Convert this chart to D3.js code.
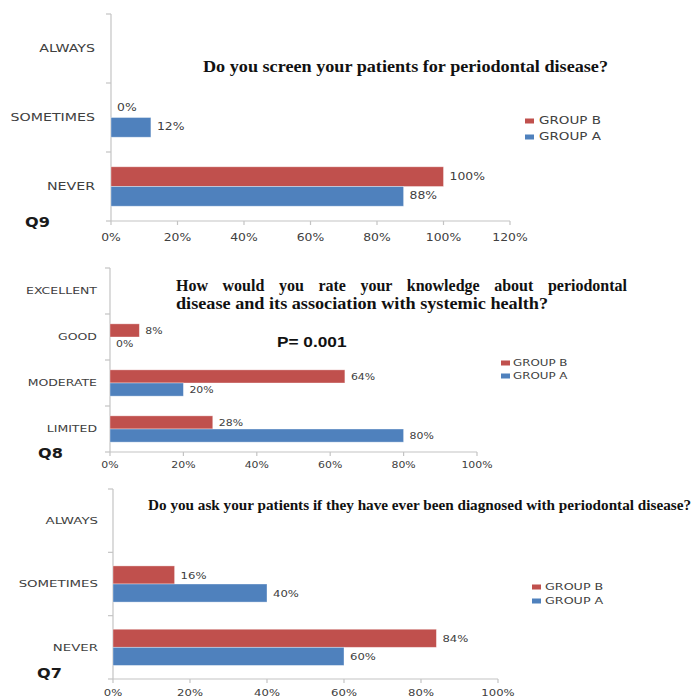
<!DOCTYPE html>
<html>
<head>
<meta charset="utf-8">
<script src="https://cdn.jsdelivr.net/npm/d3@7"></script>
<style>
  body { margin: 0; background: #fff; }
  svg { display: block; }
</style>
</head>
<body>
<svg id="chart" width="692" height="697"></svg>
<script>
// ---- Q9 ----
const q9Categories = ["ALWAYS", "SOMETIMES", "NEVER"];
const q9GroupA = [null, 12, 88];
const q9GroupB = [null, 0, 100];
const q9Ticks = [0, 20, 40, 60, 80, 100, 120];
const q9Title = ["Do you screen your patients for periodontal disease?"];

// ---- Q8 ----
const q8Categories = ["EXCELLENT", "GOOD", "MODERATE", "LIMITED"];
const q8GroupA = [null, 0, 20, 80];
const q8GroupB = [null, 8, 64, 28];
const q8Ticks = [0, 20, 40, 60, 80, 100];
const q8Title = ["How would you rate your knowledge about periodontal",
                 "disease and its association with systemic health?"];
const q8Note = "P= 0.001";

// ---- Q7 ----
const q7Categories = ["ALWAYS", "SOMETIMES", "NEVER"];
const q7GroupA = [null, 40, 60];
const q7GroupB = [null, 16, 84];
const q7Ticks = [0, 20, 40, 60, 80, 100];
const q7Title = ["Do you ask your patients if they have ever been diagnosed with periodontal disease?"];

const seriesNames = ["GROUP B", "GROUP A"];
const seriesColors = ["#C0504D", "#4F81BD"];

// horizontal stretch applied to the sans-serif texts
const SX_CAT = 1.42, SX_NUM = 1.24, SX_LEG = 1.35;
const SANS = "'DejaVu Sans', Verdana, sans-serif";
const SERIF = "'Liberation Serif', 'Times New Roman', serif";
const TEXT_GREY = "#404040";
const AXIS_GREY = "#c4c4c4";

const svg = d3.select("#chart");

function stretched(g, x, y, str, sx, size, anchor, opts = {}) {
  return g.append("text")
    .attr("transform", `translate(${x},${y}) scale(${sx},1)`)
    .attr("text-anchor", anchor)
    .attr("dominant-baseline", "central")
    .style("font-family", opts.family || SANS)
    .style("font-size", size + "px")
    .style("font-weight", opts.weight || "normal")
    .style("fill", opts.fill || TEXT_GREY)
    .text(str);
}

const panels = [
  {
    name: "Q9", categories: q9Categories, a: q9GroupA, b: q9GroupB, ticks: q9Ticks, max: 120,
    x0: 111, x1: 510, top: 14, bottom: 221, fs: 10, catRight: 95, tickY: 238,
    qLabel: { x: 25, y: 222 },
    legend: { x: 525, y: 121, dy: 16, tx: 539 },
    title: q9Title, titleLayout: { x: 203, y: 66, size: 17, widths: [405], justify: [false] }
  },
  {
    name: "Q8", categories: q8Categories, a: q8GroupA, b: q8GroupB, ticks: q8Ticks, max: 100,
    x0: 110, x1: 477, top: 268, bottom: 452, fs: 8.8, catRight: 97, tickY: 465,
    qLabel: { x: 38, y: 453 },
    legend: { x: 501, y: 363, dy: 13, tx: 513 },
    title: q8Title, titleLayout: { x: 176, y: 285, size: 16, lineGap: 18, widths: [451, 372], justify: [true, false] },
    note: { text: q8Note, x: 277, y: 341 }
  },
  {
    name: "Q7", categories: q7Categories, a: q7GroupA, b: q7GroupB, ticks: q7Ticks, max: 100,
    x0: 113, x1: 498, top: 489, bottom: 679, fs: 9.4, catRight: 98, tickY: 692,
    qLabel: { x: 37, y: 673 },
    legend: { x: 532, y: 587, dy: 14, tx: 545 },
    title: q7Title, titleLayout: { x: 148, y: 505, size: 14, widths: [543], justify: [false] }
  }
];

panels.forEach(p => {
  const g = svg.append("g");
  const x = d3.scaleLinear().domain([0, p.max]).range([p.x0, p.x1]);
  const y = d3.scaleBand().domain(p.categories).range([p.top, p.bottom]);
  const inner = d3.scaleBand().domain(seriesNames).range([0, y.bandwidth()]).paddingOuter(0.75);

  // axes
  g.append("line").attr("x1", p.x0).attr("x2", p.x0).attr("y1", p.top).attr("y2", p.bottom)
    .attr("stroke", AXIS_GREY).attr("stroke-width", 1.2);
  g.append("line").attr("x1", p.x0).attr("x2", x(p.max)).attr("y1", p.bottom).attr("y2", p.bottom)
    .attr("stroke", AXIS_GREY).attr("stroke-width", 1.2);
  const bounds = p.categories.map(c => y(c)).concat([p.bottom]);
  g.selectAll(".yt").data(bounds).join("line")
    .attr("x1", p.x0 - 5).attr("x2", p.x0).attr("y1", d => d).attr("y2", d => d)
    .attr("stroke", AXIS_GREY).attr("stroke-width", 1.2);
  g.selectAll(".xt").data(p.ticks).join("line")
    .attr("x1", d => x(d)).attr("x2", d => x(d)).attr("y1", p.bottom).attr("y2", p.bottom + 4)
    .attr("stroke", AXIS_GREY).attr("stroke-width", 1.2);

  // tick labels
  p.ticks.forEach(t => stretched(g, x(t), p.tickY, t + "%", SX_NUM, p.fs, "middle"));
  p.categories.forEach(c => stretched(g, p.catRight, y(c) + y.bandwidth() / 2, c, SX_CAT, p.fs, "end"));

  // bars + value labels
  const series = [p.b, p.a];
  series.forEach((vals, si) => {
    vals.forEach((v, ci) => {
      if (v === null) return;
      const c = p.categories[ci];
      const yy = y(c) + inner(seriesNames[si]);
      const h = inner.bandwidth();
      if (v > 0) {
        g.append("rect")
          .attr("x", x(0)).attr("y", yy)
          .attr("width", x(v) - x(0)).attr("height", h)
          .attr("fill", seriesColors[si])
          .attr("stroke", "#ffffff").attr("stroke-opacity", 0.45).attr("stroke-width", 0.8);
      }
      stretched(g, x(v) + 6, yy + h / 2, v + "%", SX_NUM, p.fs, "start");
    });
  });

  // legend
  seriesNames.forEach((s, i) => {
    const ly = p.legend.y + i * p.legend.dy;
    g.append("rect").attr("x", p.legend.x).attr("y", ly - 2.5).attr("width", 9).attr("height", 5)
      .attr("fill", seriesColors[i]);
    stretched(g, p.legend.tx, ly, s, SX_LEG, p.fs, "start");
  });

  // question tag
  stretched(g, p.qLabel.x, p.qLabel.y, p.name, 1.15, 14, "start", { weight: "bold", fill: "#1a1a1a" });

  // title
  const tl = p.titleLayout;
  p.title.forEach((line, i) => {
    const t = g.append("text")
      .attr("x", tl.x).attr("y", tl.y + i * (tl.lineGap || 0))
      .attr("dominant-baseline", "central")
      .style("font-family", SERIF).style("font-weight", "bold")
      .style("font-size", tl.size + "px").style("fill", "#111")
      .text(line);
    if (tl.justify[i]) {
      const natural = t.node().getComputedTextLength();
      const gaps = line.split(" ").length - 1;
      t.style("word-spacing", ((tl.widths[i] - natural) / gaps) + "px");
    } else {
      t.attr("textLength", tl.widths[i]).attr("lengthAdjust", "spacingAndGlyphs");
    }
  });

  if (p.note) {
    stretched(g, p.note.x, p.note.y, p.note.text, 1.15, 15, "start",
      { family: "'Liberation Sans', Arial, sans-serif", weight: "bold", fill: "#111" });
  }
});
</script>
</body>
</html>
